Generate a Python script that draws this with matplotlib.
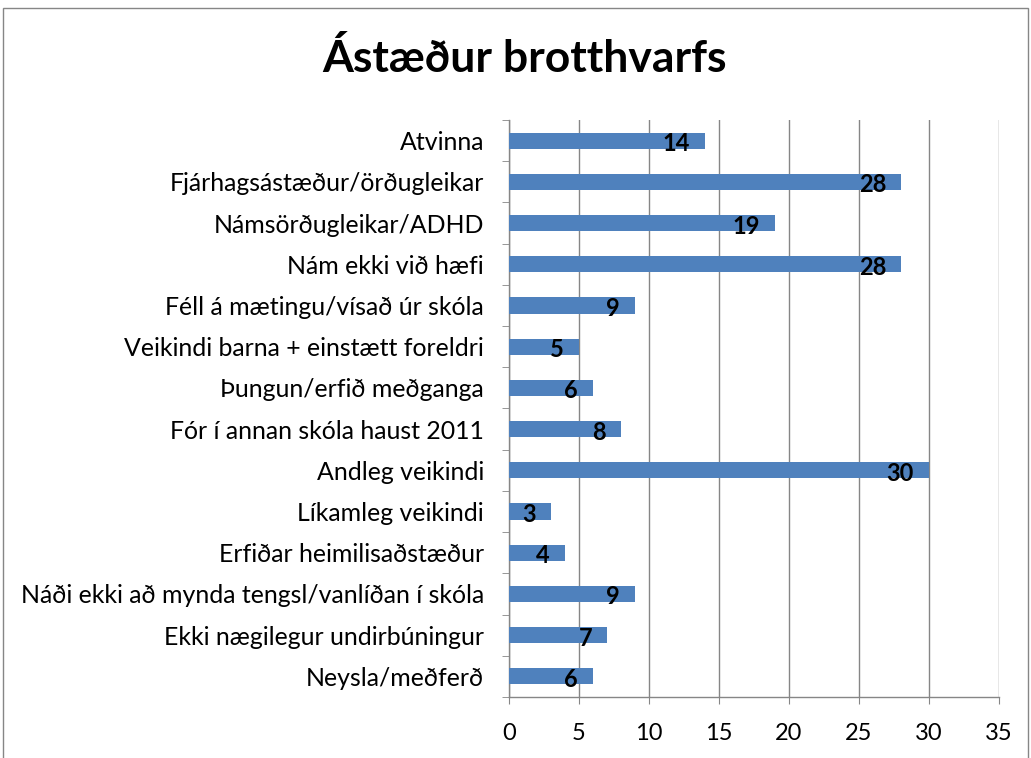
import matplotlib
matplotlib.use("Agg")
import matplotlib.pyplot as plt
from matplotlib.patches import Rectangle
import numpy as np

categories = [
    "Atvinna",
    "Fjárhagsástæður/örðugleikar",
    "Námsörðugleikar/ADHD",
    "Nám ekki við hæfi",
    "Féll á mætingu/vísað úr skóla",
    "Veikindi barna + einstætt foreldri",
    "Þungun/erfið meðganga",
    "Fór í annan skóla haust 2011",
    "Andleg veikindi",
    "Líkamleg veikindi",
    "Erfiðar heimilisaðstæður",
    "Náði ekki að mynda tengsl/vanlíðan í skóla",
    "Ekki nægilegur undirbúningur",
    "Neysla/meðferð",
]
values = [14, 28, 19, 28, 9, 5, 6, 8, 30, 3, 4, 9, 7, 6]
xticks = [0, 5, 10, 15, 20, 25, 30, 35]
title = "Ástæður brotthvarfs"

plt.rcParams['font.family'] = ['Lato', 'DejaVu Sans']

W, H = 1031, 758
fig = plt.figure(figsize=(W / 100, H / 100), dpi=100)
fig.patches.append(Rectangle((3 / W, -0.02), (1025) / W, 1.02 - 8 / H + 0.0,
                             transform=fig.transFigure, fill=False,
                             edgecolor='#868686', linewidth=1.0))

ax = fig.add_axes([509 / W, 1 - 697 / H, 490 / W, 577 / H])
n = len(categories)
y = np.arange(n)[::-1]
gray = '#868686'

ax.barh(y, values, height=0.39, color='#4F81BD', zorder=3)
for yi, v in zip(y, values):
    ax.annotate(str(v), xy=(v, yi), xytext=(-15, -3), textcoords='offset pixels',
                ha='right', va='center', fontsize=17, fontweight='bold', color='black',
                zorder=4)

ax.set_xlim(0, 35)
ax.set_ylim(-0.5, n - 0.5)
ax.set_xticks(xticks)
ax.set_xticklabels([str(t) for t in xticks], fontsize=17)
ax.set_yticks(y)
ax.set_yticklabels(categories, fontsize=17.9)
ax.set_yticks(np.arange(-0.5, n, 1.0), minor=True)
ax.tick_params(axis='y', which='major', length=0, pad=18)
ax.tick_params(axis='y', which='minor', length=5, color=gray, direction='out')
ax.tick_params(axis='x', which='major', length=5, color=gray, direction='out', pad=14)
ax.grid(axis='x', color=gray, linewidth=1.0, zorder=0)
for s in ['top', 'right']:
    ax.spines[s].set_visible(False)
for s in ['left', 'bottom']:
    ax.spines[s].set_color(gray)
    ax.spines[s].set_linewidth(1.0)

fig.text(525 / W, 1 - 58 / H, title, ha='center', va='center', fontsize=32,
         fontweight='bold')

fig.savefig("out.png", dpi=100)
